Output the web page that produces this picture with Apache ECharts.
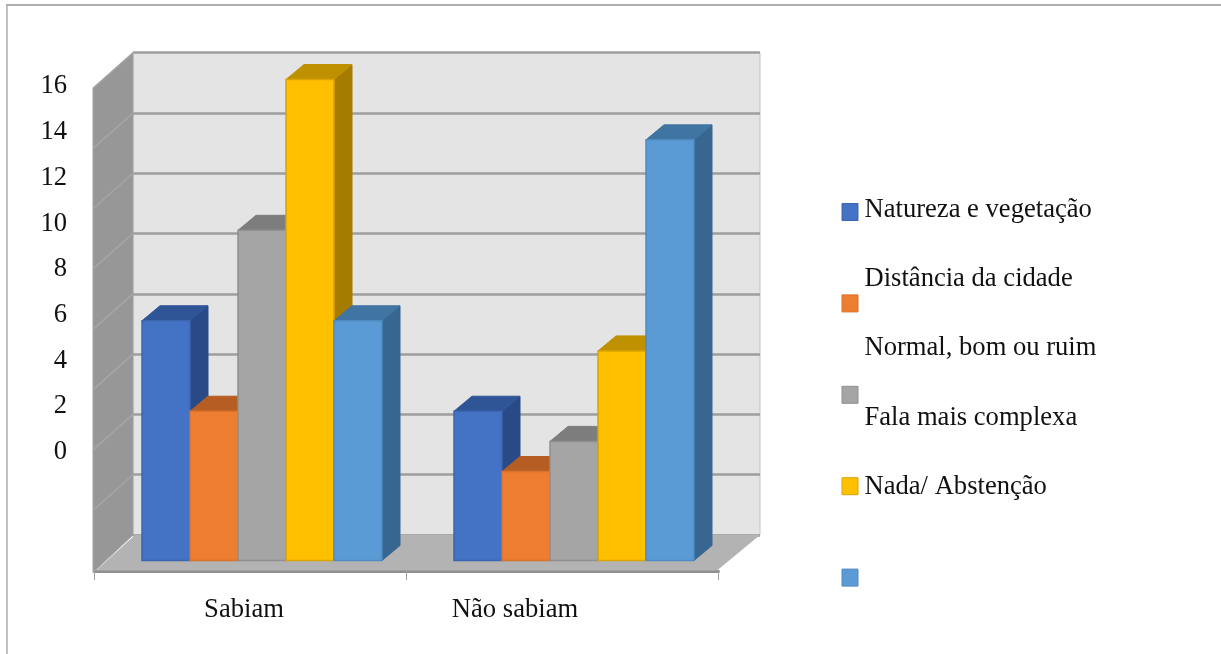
<!DOCTYPE html>
<html>
<head>
<meta charset="utf-8">
<title>Sabiam / Não sabiam</title>
<style>
html, body { margin: 0; padding: 0; background: #fff; }
#chart { width: 1221px; height: 654px; }
</style>
<script src="https://cdn.jsdelivr.net/npm/echarts@6/dist/echarts.min.js"></script>
</head>
<body>
<div id="chart"></div>
<script>
// Chart values
const categories = ['Sabiam', 'Não sabiam'];
const seriesNames = ['Natureza e vegetação', 'Distância da cidade', 'Normal, bom ou ruim', 'Fala mais complexa', 'Nada/ Abstenção'];
const natureza = [8, 5];
const distancia = [5, 3];
const normal = [11, 4];
const fala = [16, 7];
const nada = [8, 14];
const axisTicks = [0, 2, 4, 6, 8, 10, 12, 14, 16];

// Face colours of each 3D column
const frontColors = ['#4472c4', '#ed7d31', '#a5a5a5', '#ffc000', '#5b9bd5'];
const edgeColors = ['#3c66b0', '#d9722c', '#8f8f8f', '#d9a300', '#4f8ac0'];
const topColors = ['#2f5597', '#b55d22', '#7d7d7d', '#bf9000', '#4074a3'];
const sideColors = ['#294a86', '#a3541f', '#707070', '#a67c00', '#376690'];

const valueSeries = [natureza, distancia, normal, fala, nada];
const SERIF = '"Liberation Serif", "Times New Roman", serif';
const FONT_SIZE = 26.6;

// Column depth projected on screen, in pixels
const DEPTH_X = 18;
const DEPTH_Y = 15;
// The columns stand slightly inside the floor plane
const FOOT_INSET = 1.5;
// Projection from the back wall to the front of the floor
const WALL_DX = -40;
const WALL_DY = 35.5;

function renderColumn(params, api) {
  const cat = api.value(0);
  const val = api.value(1);
  const base = api.coord([cat, 0]);
  const top = api.coord([cat, val]);
  const w = api.size([1, 0])[0] * 2 / 13;
  const i = params.seriesIndex - 1;
  const x0 = base[0] + (i - 2.5) * w;
  const x1 = x0 + w;
  const by = base[1] - FOOT_INSET;
  const ty = top[1];
  const face = (points, fill) => ({
    type: 'polygon',
    shape: { points },
    style: { fill, stroke: fill, lineWidth: 1 }
  });
  const front = face([[x0, ty], [x1, ty], [x1, by], [x0, by]], frontColors[i]);
  front.style.stroke = edgeColors[i];
  front.style.lineWidth = 1.5;
  return {
    type: 'group',
    children: [
      face([[x1, ty], [x1 + DEPTH_X, ty - DEPTH_Y], [x1 + DEPTH_X, by - DEPTH_Y], [x1, by]], sideColors[i]),
      face([[x0, ty], [x1, ty], [x1 + DEPTH_X, ty - DEPTH_Y], [x0 + DEPTH_X, ty - DEPTH_Y]], topColors[i]),
      front
    ]
  };
}

// Left wall, floor and the wall's receding grid lines, projected from the back wall axis
function renderRoom(params, api) {
  const v = api.value(0);
  const p = api.coord([0, v]);
  const children = [];
  if (params.dataIndex === 0) {
    const topLeft = api.coord([0, axisTicks[axisTicks.length - 1]]);
    const right = api.coord([1, v]);
    children.push({
      type: 'polygon',
      shape: { points: [
        [p[0] + WALL_DX + 3, p[1] + WALL_DY],
        [right[0] - 43, p[1] + WALL_DY],
        right,
        [p[0] + 2, p[1]]
      ] },
      style: { fill: '#b3b3b3' }
    });
    children.push({
      type: 'polygon',
      shape: { points: [
        [topLeft[0] + WALL_DX, topLeft[1] + WALL_DY],
        topLeft,
        p,
        [p[0] + WALL_DX, p[1] + WALL_DY + 2]
      ] },
      style: { fill: '#979797', stroke: '#a3a3a3', lineWidth: 1 }
    });
  }
  if (v > 0) {
    children.push({
      type: 'line',
      shape: { x1: p[0], y1: p[1], x2: p[0] + WALL_DX, y2: p[1] + WALL_DY },
      style: { stroke: '#a6a6a6', lineWidth: 1.5 }
    });
  }
  return { type: 'group', children };
}

const hiddenValue = (gridIndex) => ({ type: 'value', gridIndex, min: 0, max: 16, interval: 2, show: false });
const hiddenCategory = (gridIndex) => ({ type: 'category', gridIndex, data: categories, show: false });

const chart = echarts.init(document.getElementById('chart'), null, { renderer: 'canvas' });
chart.setOption({
  backgroundColor: '#ffffff',
  animation: false,
  textStyle: { fontFamily: SERIF },
  grid: [
    // back wall
    { left: 133, top: 52.7, width: 627, height: 482.3, show: true, backgroundColor: '#e4e4e4', borderColor: '#c4c4c4', borderWidth: 1 },
    // front plane of the columns
    { left: 106, top: 79.5, width: 624, height: 482.5 },
    // front edge of the floor
    { left: 94.5, top: 88, width: 624, height: 483 },
    // value labels
    { left: 80, top: 86.5, width: 10, height: 365.5 },
    // category labels
    { left: 244, top: 560, width: 271, height: 20 }
  ],
  xAxis: [
    { type: 'value', gridIndex: 0, min: 0, max: 1, show: false },
    hiddenCategory(1),
    {
      type: 'category', gridIndex: 2, data: categories,
      axisLine: { show: true, lineStyle: { color: '#8f8f8f', width: 3 } },
      axisTick: { show: true, length: 9, lineStyle: { color: '#a0a0a0', width: 1 } },
      axisLabel: { show: false }
    },
    { type: 'value', gridIndex: 3, show: false },
    {
      type: 'category', gridIndex: 4, data: categories, boundaryGap: false,
      axisLine: { show: false }, axisTick: { show: false },
      axisLabel: { show: true, interval: 0, margin: 17, color: '#111', fontFamily: SERIF, fontSize: FONT_SIZE }
    }
  ],
  yAxis: [
    {
      type: 'value', gridIndex: 0, min: 0, max: 16, interval: 2,
      axisLine: { show: false }, axisTick: { show: false }, axisLabel: { show: false },
      splitLine: { show: true, lineStyle: { color: '#9e9e9e', width: 2.5 } }
    },
    hiddenValue(1),
    hiddenValue(2),
    {
      type: 'value', gridIndex: 3, min: 0, max: 16, interval: 2,
      axisLine: { show: false }, axisTick: { show: false }, splitLine: { show: false },
      axisLabel: { show: true, margin: 13, color: '#111', fontFamily: SERIF, fontSize: FONT_SIZE }
    },
    hiddenValue(4)
  ],
  legend: [
    {
      // colour keys
      data: seriesNames.map((name, i) => ({ name, itemStyle: { borderColor: edgeColors[i], borderWidth: 1 } })),
      orient: 'vertical', left: 841.5, top: 203, itemWidth: 16, itemHeight: 17, itemGap: 73.4,
      icon: 'rect', selectedMode: false, formatter: () => '', padding: 0
    },
    {
      // text entries
      data: seriesNames.map((name) => ({ name, icon: 'none' })),
      orient: 'vertical', left: 859.5, top: 195, itemWidth: 0, itemHeight: 30, itemGap: 39.2,
      selectedMode: false, padding: 0,
      textStyle: { color: '#111', fontFamily: SERIF, fontSize: FONT_SIZE, lineHeight: 30, padding: 0 }
    }
  ],
  series: [
    {
      type: 'custom', name: 'room', xAxisIndex: 0, yAxisIndex: 0,
      clip: false, silent: true, renderItem: renderRoom,
      encode: { x: 1, y: 0 },
      data: axisTicks.map((v) => [v, 0])
    }
  ].concat(valueSeries.map((values, i) => ({
    type: 'custom',
    name: seriesNames[i],
    xAxisIndex: 1,
    yAxisIndex: 1,
    clip: false,
    silent: true,
    itemStyle: { color: frontColors[i] },
    renderItem: renderColumn,
    encode: { x: 0, y: 1 },
    data: values.map((v, c) => [c, v])
  }))),
  graphic: [
    // page frame along the top and left
    { type: 'line', shape: { x1: 6, y1: 5, x2: 1221, y2: 5 }, style: { stroke: '#aeaeae', lineWidth: 2 }, silent: true },
    { type: 'line', shape: { x1: 7, y1: 5, x2: 7, y2: 654 }, style: { stroke: '#aeaeae', lineWidth: 1.5 }, silent: true }
  ]
});
</script>
</body>
</html>
